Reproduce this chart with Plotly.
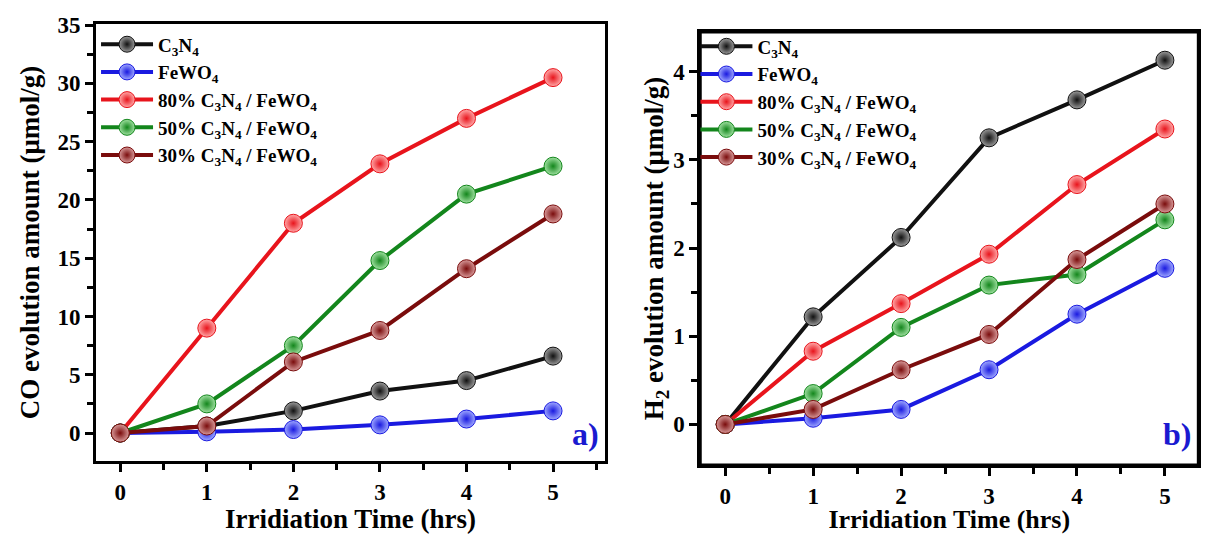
import plotly.graph_objects as go

hours = [0, 1, 2, 3, 4, 5]
series_names = ["C<sub>3</sub>N<sub>4</sub>", "FeWO<sub>4</sub>",
                "80% C<sub>3</sub>N<sub>4</sub> / FeWO<sub>4</sub>",
                "50% C<sub>3</sub>N<sub>4</sub> / FeWO<sub>4</sub>",
                "30% C<sub>3</sub>N<sub>4</sub> / FeWO<sub>4</sub>"]

co_c3n4 = [0, 0.6, 1.9, 3.6, 4.5, 6.6]
co_fewo4 = [0, 0.1, 0.3, 0.7, 1.2, 1.9]
co_80 = [0, 9.0, 18.0, 23.1, 27.0, 30.5]
co_50 = [0, 2.5, 7.5, 14.8, 20.5, 22.9]
co_30 = [0, 0.6, 6.1, 8.8, 14.1, 18.8]

h2_c3n4 = [0, 1.22, 2.12, 3.25, 3.68, 4.13]
h2_fewo4 = [0, 0.07, 0.17, 0.62, 1.25, 1.77]
h2_80 = [0, 0.83, 1.37, 1.93, 2.72, 3.35]
h2_50 = [0, 0.35, 1.10, 1.58, 1.70, 2.32]
h2_30 = [0, 0.17, 0.62, 1.02, 1.87, 2.50]

co_ticks = [0, 5, 10, 15, 20, 25, 30, 35]
h2_ticks = [0, 1, 2, 3, 4]

colors = ["#111111", "#1a1ae0", "#e8141c", "#13861c", "#7a0c0c"]
light = ["#9a9a9a", "#9fa8ff", "#ffa8a8", "#9fe0a0", "#d89a9a"]

co_data = [co_c3n4, co_fewo4, co_80, co_50, co_30]
h2_data = [h2_c3n4, h2_fewo4, h2_80, h2_50, h2_30]

FONT = "Liberation Serif"
fig = go.Figure()

for data, xa, ya, lg in [(co_data, "x", "y", "legend"), (h2_data, "x2", "y2", "legend2")]:
    for i, (name, ys) in enumerate(zip(series_names, data)):
        fig.add_trace(go.Scatter(
            x=hours, y=ys, name=name, mode="lines+markers",
            line=dict(color=colors[i], width=4),
            marker=dict(size=18, color=light[i], symbol="circle",
                        gradient=dict(type="radial", color=colors[i]),
                        line=dict(color=colors[i], width=1)),
            xaxis=xa, yaxis=ya, legend=lg))

tickfont = dict(family=FONT, size=23, color="black", weight="bold")

def titlefont(size):
    return dict(family=FONT, size=size, color="black", weight="bold")

def xax(domain, anchor, rng, tsize, standoff):
    return dict(domain=domain, anchor=anchor, range=rng, automargin=False,
                tickmode="array", tickvals=hours, ticks="outside", ticklen=8, tickwidth=3,
                tickcolor="black", showline=True, linecolor="black", linewidth=3, mirror=True,
                showgrid=False, zeroline=False, tickfont=tickfont,
                minor=dict(dtick=0.5, tick0=0, ticks="outside", ticklen=6, tickwidth=3, tickcolor="black"),
                title=dict(text="Irridiation Time (hrs)", font=titlefont(tsize), standoff=standoff))

def yax(domain, anchor, rng, tv, minor_dt, title, standoff):
    return dict(domain=domain, anchor=anchor, range=rng, automargin=False,
                tickmode="array", tickvals=tv,
                ticks="outside", ticklen=8, tickwidth=3, tickcolor="black",
                showline=True, linecolor="black", linewidth=3, mirror=True,
                showgrid=False, zeroline=False, tickfont=tickfont,
                minor=dict(dtick=minor_dt, tick0=0, ticks="outside", ticklen=6, tickwidth=3, tickcolor="black"),
                title=dict(text=title, font=titlefont(27), standoff=standoff))

legfont = dict(family=FONT, size=19, color="black", weight="bold")

fig.update_layout(
    template="none",
    width=1206, height=526,
    margin=dict(l=0, r=0, t=0, b=0, autoexpand=False),
    paper_bgcolor="white", plot_bgcolor="white",
    xaxis=xax([0.073, 0.495], "y", [-0.28, 5.6], 27, 0),
    xaxis2=xax([0.574, 0.987], "y2", [-0.284, 5.38], 26, 3),
    yaxis=yax([0.1388, 0.9696], "x", [-2.4, 35.1], co_ticks, 2.5,
              "CO evolution amount (μmol/g)", 10),
    yaxis2=yax([0.1312, 0.9544], "x2", [-0.46, 4.45], h2_ticks, 0.5,
               "H<sub>2</sub> evolution amount (μmol/g)", 0),
    legend=dict(x=0.073, y=0.967, xanchor="left", yanchor="top", bgcolor="rgba(0,0,0,0)",
                font=legfont, itemwidth=52, tracegroupgap=0, traceorder="normal"),
    legend2=dict(x=0.570, y=0.963, xanchor="left", yanchor="top", bgcolor="rgba(0,0,0,0)",
                 font=legfont, itemwidth=52, tracegroupgap=0, traceorder="normal"),
    shapes=[
        dict(type="rect", xref="x2 domain", yref="y2 domain", x0=0, x1=1, y0=0, y1=1,
             line=dict(color="black", width=3), fillcolor="rgba(0,0,0,0)", layer="above"),
    ],
    annotations=[
        dict(text="a)", x=0.492, y=0.19, xref="paper", yref="paper", xanchor="right", yanchor="middle",
             showarrow=False, font=dict(family=FONT, size=32, color="#1a1ad0", weight="bold")),
        dict(text="b)", x=0.983, y=0.19, xref="paper", yref="paper", xanchor="right", yanchor="middle",
             showarrow=False, font=dict(family=FONT, size=32, color="#1a1ad0", weight="bold")),
    ],
)

fig.write_html("out.html")
